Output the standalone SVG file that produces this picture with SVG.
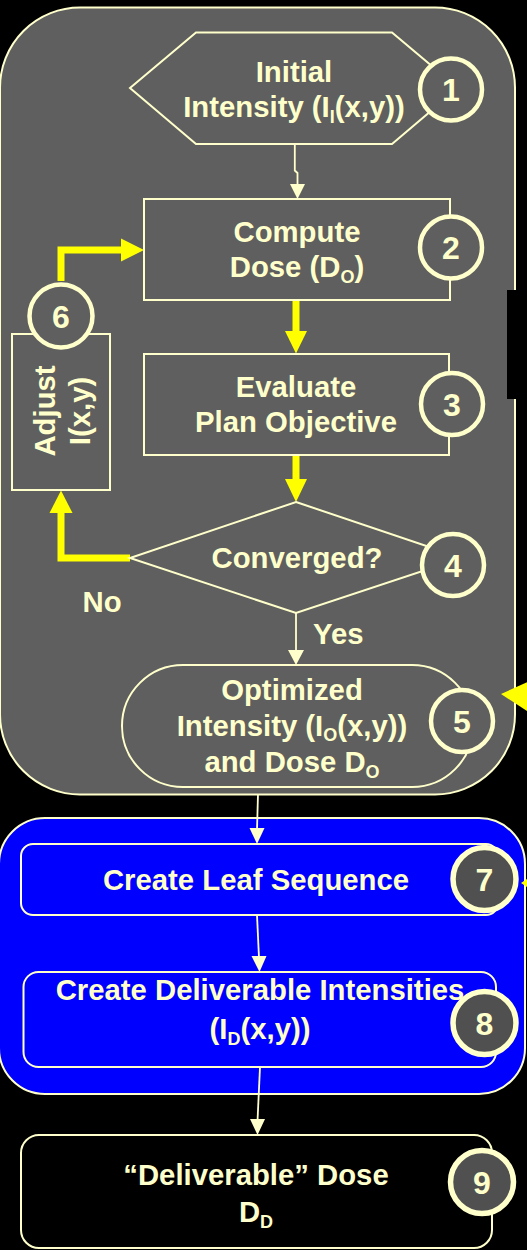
<svg xmlns="http://www.w3.org/2000/svg" width="527" height="1250" viewBox="0 0 527 1250">
  <style>
    .frame { stroke: #ffffcc; stroke-width: 2; }
    .node { fill: #5f5f5f; stroke: #ffffcc; stroke-width: 2; }
    .badge { fill: #5f5f5f; stroke: #ffffcc; stroke-width: 4.5; }
    .badge-dark { fill: #505050; stroke: #ffffcc; stroke-width: 5.5; }
    .lbl { font-family: "Liberation Sans", Arial, sans-serif; font-weight: bold; font-size: 29.3px; fill: #ffffcc; text-anchor: middle; }
    .num { font-family: "Liberation Sans", Arial, sans-serif; font-weight: bold; font-size: 32px; fill: #ffffcc; text-anchor: middle; }
    .sub { font-size: 18px; }
    .thin { fill: none; stroke: #ffffcc; stroke-width: 1.8; }
    .thick { fill: none; stroke: #ffff00; stroke-width: 7; stroke-linejoin: miter; }
    .head-thin { fill: #ffffcc; }
    .head-thick { fill: #ffff00; }
  </style>

  <rect x="0" y="0" width="527" height="1250" fill="#000000"/>

  <!-- optimization loop container -->
  <rect id="optimization-loop" class="frame" x="0" y="7.5" width="515" height="787" rx="80" ry="80" fill="#5f5f5f"/>
  <rect x="507" y="290" width="20" height="109" fill="#000000"/>

  <!-- sequencing container -->
  <rect id="sequencing" class="frame" x="-1" y="818" width="526" height="276" rx="46" ry="46" fill="#0000ff"/>

  <!-- connectors -->
  <g id="connectors">
    <polyline class="thin" points="294.8,144 294.8,170.5 297.5,173 297.5,186"/>
    <polygon class="head-thin" points="290,184 305,184 297.5,199"/>

    <line class="thick" x1="296" y1="300" x2="296" y2="333"/>
    <polygon class="head-thick" points="285,331 307,331 296,353.5"/>

    <line class="thick" x1="296" y1="455" x2="296" y2="481"/>
    <polygon class="head-thick" points="285,479 307,479 296,502"/>

    <polyline class="thick" points="130,558 61,558 61,511"/>
    <polygon class="head-thick" points="49.5,513 72.5,513 61,490.5"/>

    <polyline class="thick" points="61,281 61,250 123,250"/>
    <polygon class="head-thick" points="121,238.5 121,261.5 144,250"/>

    <line class="thin" x1="296" y1="613" x2="296" y2="652"/>
    <polygon class="head-thin" points="288,650 304,650 296,665"/>

    <line class="thin" x1="258" y1="794" x2="257" y2="830"/>
    <polygon class="head-thin" points="249.5,828 264.5,828 257,844"/>

    <line class="thin" x1="257" y1="915" x2="259" y2="958"/>
    <polygon class="head-thin" points="251.5,956 266.5,956 259.5,972"/>

    <line class="thin" x1="260" y1="1067" x2="257.5" y2="1121"/>
    <polygon class="head-thin" points="250,1119 265,1119 257.5,1135"/>

    <polygon class="head-thick" points="501,694 530,681 530,713"/>
    <polygon class="head-thick" points="521,883 530,877 530,889"/>
  </g>

  <!-- 1: initial intensity -->
  <g id="node-1">
    <polygon class="node" points="130,88 196,32.5 392,32.5 458,88 392,144 196,144"/>
    <text class="lbl" x="294" y="82">Initial</text>
    <text class="lbl" x="294" y="117">Intensity (I<tspan class="sub" dy="6">I</tspan><tspan dy="-6">(x,y))</tspan></text>
    <circle class="badge" cx="451" cy="89.5" r="31"/>
    <text class="num" x="451" y="101">1</text>
  </g>

  <!-- 2: compute dose -->
  <g id="node-2">
    <rect class="node" x="144" y="199" width="306" height="101"/>
    <text class="lbl" x="297" y="242">Compute</text>
    <text class="lbl" x="297" y="277">Dose (D<tspan class="sub" dy="6">O</tspan><tspan dy="-6">)</tspan></text>
    <circle class="badge" cx="451" cy="247.5" r="31"/>
    <text class="num" x="451" y="259">2</text>
  </g>

  <!-- 3: evaluate plan objective -->
  <g id="node-3">
    <rect class="node" x="144" y="354" width="305" height="101"/>
    <text class="lbl" x="296" y="397">Evaluate</text>
    <text class="lbl" x="296" y="432">Plan Objective</text>
    <circle class="badge" cx="452" cy="404" r="31"/>
    <text class="num" x="452" y="415.5">3</text>
  </g>

  <!-- 4: convergence test -->
  <g id="node-4">
    <polygon class="node" points="296,502 462,558 296,613 130,558"/>
    <text class="lbl" x="297" y="568">Converged?</text>
    <circle class="badge" cx="453" cy="565" r="31"/>
    <text class="num" x="453" y="576.5">4</text>
    <text class="lbl" x="102" y="612">No</text>
    <text class="lbl" x="313" y="644" style="text-anchor:start">Yes</text>
  </g>

  <!-- 5: optimized result -->
  <g id="node-5">
    <rect class="node" x="122" y="665" width="351" height="122" rx="61" ry="61"/>
    <text class="lbl" x="292" y="700">Optimized</text>
    <text class="lbl" x="292" y="736">Intensity (I<tspan class="sub" dy="5">O</tspan><tspan dy="-5">(x,y))</tspan></text>
    <text class="lbl" x="292" y="772">and Dose D<tspan class="sub" dy="6">O</tspan></text>
    <circle class="badge" cx="462" cy="721" r="31"/>
    <text class="num" x="462" y="732.5">5</text>
  </g>

  <!-- 6: adjust intensities -->
  <g id="node-6">
    <rect class="node" x="12" y="334" width="98" height="156"/>
    <text class="lbl" transform="translate(61,411) rotate(-90)"><tspan x="0" y="-6">Adjust</tspan><tspan x="0" y="29">I(x,y)</tspan></text>
    <circle class="badge" cx="61" cy="316" r="31.5"/>
    <text class="num" x="61" y="327.5">6</text>
  </g>

  <!-- 7: leaf sequencing -->
  <g id="node-7">
    <rect class="frame" x="21" y="844" width="477" height="71" rx="12" ry="12" fill="#0000ff"/>
    <text class="lbl" x="256" y="890">Create Leaf Sequence</text>
    <circle class="badge-dark" cx="484.5" cy="879" r="31.5"/>
    <text class="num" x="484.5" y="890.5">7</text>
  </g>

  <!-- 8: deliverable intensities -->
  <g id="node-8">
    <rect class="frame" x="23.5" y="972" width="472.5" height="95" rx="15" ry="15" fill="#0000ff"/>
    <text class="lbl" x="260" y="1000">Create Deliverable Intensities</text>
    <text class="lbl" x="260" y="1039">(I<tspan class="sub" dy="6">D</tspan><tspan dy="-6">(x,y))</tspan></text>
    <circle class="badge-dark" cx="484.5" cy="1023" r="31.5"/>
    <text class="num" x="484.5" y="1034.5">8</text>
  </g>

  <!-- 9: deliverable dose -->
  <g id="node-9">
    <rect class="frame" x="21" y="1135" width="471" height="113" rx="18" ry="18" fill="#000000"/>
    <text class="lbl" x="256" y="1185">“Deliverable” Dose</text>
    <text class="lbl" x="256" y="1222">D<tspan class="sub" dy="6">D</tspan></text>
    <circle class="badge-dark" cx="482" cy="1182" r="31.5"/>
    <text class="num" x="482" y="1193.5">9</text>
  </g>
</svg>
